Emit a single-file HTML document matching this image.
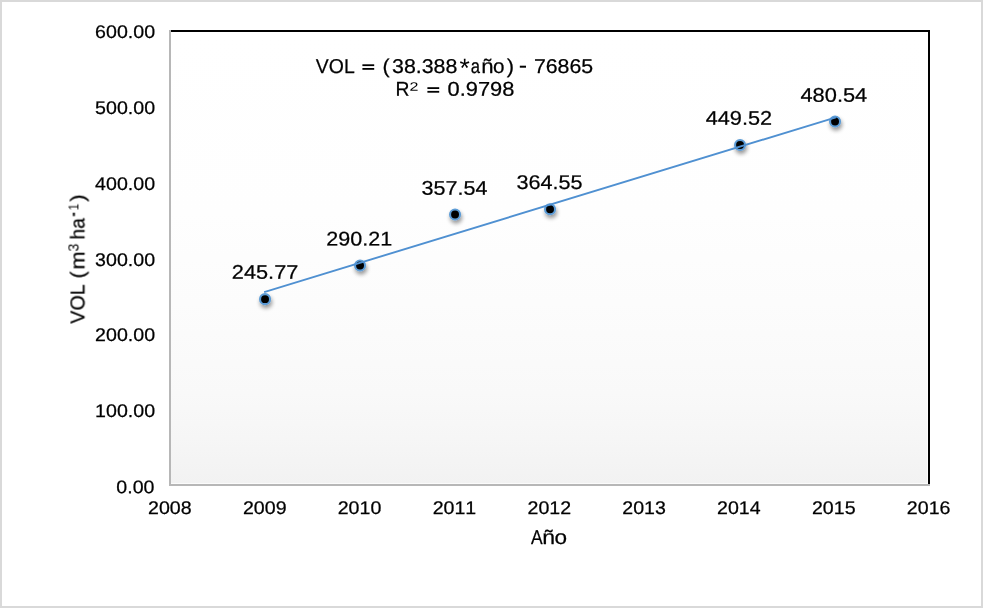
<!DOCTYPE html>
<html><head><meta charset="utf-8"><title>Chart</title>
<style>
html,body{margin:0;padding:0;background:#fff;}
body{width:983px;height:608px;overflow:hidden;font-family:"Liberation Sans",sans-serif;}
svg{display:block;}
text{white-space:pre;font-kerning:none;}
</style></head><body>
<svg width="983" height="608" viewBox="0 0 983 608">
<defs>
<linearGradient id="pg" x1="0" y1="0" x2="0" y2="1">
<stop offset="0" stop-color="#ffffff"/><stop offset="0.4" stop-color="#fefefe"/><stop offset="0.6" stop-color="#fcfcfc"/><stop offset="0.8" stop-color="#f9f9f9"/><stop offset="0.9" stop-color="#f6f6f6"/><stop offset="1" stop-color="#f2f2f2"/>
</linearGradient>
<filter id="sh" x="-60%" y="-60%" width="240%" height="240%">
<feGaussianBlur in="SourceAlpha" stdDeviation="2.2"/><feOffset dx="1.0" dy="2.6" result="b"/>
<feComponentTransfer><feFuncA type="linear" slope="0.42"/></feComponentTransfer>
<feMerge><feMergeNode/><feMergeNode in="SourceGraphic"/></feMerge>
</filter>
</defs>
<rect x="0" y="0" width="983" height="608" fill="#fff"/>
<rect x="1.0" y="1.0" width="981" height="606" fill="none" stroke="#d9d9d9" stroke-width="2"/>
<rect x="171" y="32" width="756.2" height="451.3" fill="url(#pg)"/>
<rect x="169" y="30" width="2" height="456" fill="#b7b7b7"/>
<rect x="169" y="484" width="761" height="2" fill="#b7b7b7"/>
<rect x="171" y="30" width="759" height="2" fill="#000"/>
<rect x="928" y="30" width="2" height="454" fill="#000"/>
<g filter="url(#sh)">
<circle cx="265.05" cy="299.13" r="5.0" fill="#000" stroke="#5b9bd5" stroke-width="2.1"/>
<circle cx="360.05" cy="265.51" r="5.0" fill="#000" stroke="#5b9bd5" stroke-width="2.1"/>
<circle cx="455.05" cy="214.56" r="5.0" fill="#000" stroke="#5b9bd5" stroke-width="2.1"/>
<circle cx="550.05" cy="209.26" r="5.0" fill="#000" stroke="#5b9bd5" stroke-width="2.1"/>
<circle cx="740.05" cy="144.96" r="5.0" fill="#000" stroke="#5b9bd5" stroke-width="2.1"/>
<circle cx="835.05" cy="121.49" r="5.0" fill="#000" stroke="#5b9bd5" stroke-width="2.1"/>
</g>
<line x1="265.05" y1="291.85" x2="835.05" y2="117.57" stroke="#4f90d1" stroke-width="1.9" stroke-linecap="square"/>
<g opacity="0.999" stroke="#000" stroke-width="0.25" stroke-linejoin="round">
<text transform="translate(95.11,37.90) rotate(0.03) scale(1.0710,1)" font-family="Liberation Sans, sans-serif" font-size="18.3" fill="#000">600.00</text>
<text transform="translate(95.11,114.05) rotate(0.03) scale(1.0710,1)" font-family="Liberation Sans, sans-serif" font-size="18.3" fill="#000">500.00</text>
<text transform="translate(95.11,190.05) rotate(0.03) scale(1.0710,1)" font-family="Liberation Sans, sans-serif" font-size="18.3" fill="#000">400.00</text>
<text transform="translate(95.11,266.05) rotate(0.03) scale(1.0710,1)" font-family="Liberation Sans, sans-serif" font-size="18.3" fill="#000">300.00</text>
<text transform="translate(95.11,340.90) rotate(0.03) scale(1.0710,1)" font-family="Liberation Sans, sans-serif" font-size="18.3" fill="#000">200.00</text>
<text transform="translate(95.11,417.05) rotate(0.03) scale(1.0710,1)" font-family="Liberation Sans, sans-serif" font-size="18.3" fill="#000">100.00</text>
<text transform="translate(116.36,493.20) rotate(0.03) scale(1.0710,1)" font-family="Liberation Sans, sans-serif" font-size="18.3" fill="#000">0.00</text>
<text transform="translate(148.05,514.10) rotate(0.03) scale(1.0710,1)" font-family="Liberation Sans, sans-serif" font-size="18.3" fill="#000">2008</text>
<text transform="translate(242.95,514.10) rotate(0.03) scale(1.0710,1)" font-family="Liberation Sans, sans-serif" font-size="18.3" fill="#000">2009</text>
<text transform="translate(337.70,514.10) rotate(0.03) scale(1.0710,1)" font-family="Liberation Sans, sans-serif" font-size="18.3" fill="#000">2010</text>
<text transform="translate(432.64,514.10) rotate(0.03) scale(1.0710,1)" font-family="Liberation Sans, sans-serif" font-size="18.3" fill="#000">2011</text>
<text transform="translate(527.49,514.10) rotate(0.03) scale(1.0710,1)" font-family="Liberation Sans, sans-serif" font-size="18.3" fill="#000">2012</text>
<text transform="translate(622.30,514.10) rotate(0.03) scale(1.0710,1)" font-family="Liberation Sans, sans-serif" font-size="18.3" fill="#000">2013</text>
<text transform="translate(717.00,514.10) rotate(0.03) scale(1.0710,1)" font-family="Liberation Sans, sans-serif" font-size="18.3" fill="#000">2014</text>
<text transform="translate(811.95,514.10) rotate(0.03) scale(1.0710,1)" font-family="Liberation Sans, sans-serif" font-size="18.3" fill="#000">2015</text>
<text transform="translate(906.85,514.10) rotate(0.03) scale(1.0710,1)" font-family="Liberation Sans, sans-serif" font-size="18.3" fill="#000">2016</text>
<text transform="translate(231.85,278.68) rotate(0.03) scale(1.0983,1)" font-family="Liberation Sans, sans-serif" font-size="19.8" fill="#000">245.77</text>
<text transform="translate(326.33,245.51) rotate(0.03) scale(1.0881,1)" font-family="Liberation Sans, sans-serif" font-size="19.8" fill="#000">290.21</text>
<text transform="translate(421.60,194.76) rotate(0.03) scale(1.0883,1)" font-family="Liberation Sans, sans-serif" font-size="19.8" fill="#000">357.54</text>
<text transform="translate(516.52,188.96) rotate(0.03) scale(1.0923,1)" font-family="Liberation Sans, sans-serif" font-size="19.8" fill="#000">364.55</text>
<text transform="translate(705.69,124.81) rotate(0.03) scale(1.0974,1)" font-family="Liberation Sans, sans-serif" font-size="19.8" fill="#000">449.52</text>
<text transform="translate(800.47,101.74) rotate(0.03) scale(1.1034,1)" font-family="Liberation Sans, sans-serif" font-size="19.8" fill="#000">480.54</text>
<text transform="translate(315.80,72.90) rotate(0.03) scale(0.9720,1)" font-family="Liberation Sans, sans-serif" font-size="20.0" fill="#000">VOL</text>
<rect x="362.40" y="64.30" width="11.80" height="1.80" fill="#000" stroke="none"/>
<rect x="362.40" y="68.00" width="11.80" height="1.80" fill="#000" stroke="none"/>
<text transform="translate(382.61,72.90) rotate(0.03) scale(1.0755,1)" font-family="Liberation Sans, sans-serif" font-size="20.0" fill="#000">(</text>
<text transform="translate(392.05,72.90) rotate(0.03) scale(1.0672,1)" font-family="Liberation Sans, sans-serif" font-size="20.0" fill="#000">38.388</text>
<text transform="translate(459.40,76.84) rotate(0.03) scale(1.0184,1)" font-family="Liberation Sans, sans-serif" font-size="26.00" stroke="none">*</text>
<text transform="translate(470.65,72.90) rotate(0.03) scale(0.8333,1)" font-family="Liberation Sans, sans-serif" font-size="20.0" fill="#000">a</text>
<text transform="translate(481.15,72.90) rotate(0.03) scale(1.1059,1)" font-family="Liberation Sans, sans-serif" font-size="20.0" fill="#000">ñ</text>
<text transform="translate(493.07,72.90) rotate(0.03) scale(1.0316,1)" font-family="Liberation Sans, sans-serif" font-size="20.0" fill="#000">o</text>
<text transform="translate(506.68,72.90) rotate(0.03) scale(1.0962,1)" font-family="Liberation Sans, sans-serif" font-size="20.0" fill="#000">)</text>
<rect x="519.80" y="65.70" width="6.20" height="2.00" fill="#000" stroke="none"/>
<text transform="translate(533.93,72.90) rotate(0.03) scale(1.0651,1)" font-family="Liberation Sans, sans-serif" font-size="20.0" fill="#000">76865</text>
<text transform="translate(395.45,95.80) rotate(0.03) scale(0.9661,1)" font-family="Liberation Sans, sans-serif" font-size="20.0" fill="#000">R</text>
<text transform="translate(409.40,90.80) rotate(0.03) scale(1.3059,1)" font-family="Liberation Sans, sans-serif" font-size="12.29" stroke="none">2</text>
<rect x="427.40" y="87.20" width="11.80" height="1.80" fill="#000" stroke="none"/>
<rect x="427.40" y="90.90" width="11.80" height="1.80" fill="#000" stroke="none"/>
<text transform="translate(447.53,95.80) rotate(0.03) scale(1.0924,1)" font-family="Liberation Sans, sans-serif" font-size="20.0" fill="#000">0.9798</text>
<text transform="translate(530.91,544.00) rotate(0.03) scale(0.8712,1)" font-family="Liberation Sans, sans-serif" font-size="20.0" fill="#000">A</text>
<text transform="translate(542.29,544.00) rotate(0.03) scale(1.1529,1)" font-family="Liberation Sans, sans-serif" font-size="20.0" fill="#000">ñ</text>
<text transform="translate(554.50,544.00) rotate(0.03) scale(1.1263,1)" font-family="Liberation Sans, sans-serif" font-size="20.0" fill="#000">o</text>
<g transform="translate(84.4,323.7) rotate(-90)"><text transform="translate(0.10,0.00) rotate(0.03) scale(0.9796,1)" font-family="Liberation Sans, sans-serif" font-size="20.0" fill="#000">VOL</text><text transform="translate(45.31,0.00) rotate(0.03) scale(1.0755,1)" font-family="Liberation Sans, sans-serif" font-size="20.0" fill="#000">(</text><text transform="translate(54.19,0.00) rotate(0.03) scale(1.0857,1)" font-family="Liberation Sans, sans-serif" font-size="20.0" fill="#000">m</text><text transform="translate(72.34,-5.95) rotate(0.03) scale(0.9680,1)" font-family="Liberation Sans, sans-serif" font-size="14.51" stroke="none">3</text><text transform="translate(84.32,0.00) rotate(0.03) scale(0.9495,1)" font-family="Liberation Sans, sans-serif" font-size="20.0" fill="#000">ha</text><rect x="107.60" y="-11.50" width="3.40" height="2.00" fill="#000" stroke="none"/><text transform="translate(113.53,-5.80) rotate(0.03) scale(0.8104,1)" font-family="Liberation Sans, sans-serif" font-size="14.35" stroke="none">1</text><text transform="translate(121.98,0.00) rotate(0.03) scale(1.1154,1)" font-family="Liberation Sans, sans-serif" font-size="20.0" fill="#000">)</text></g>
</g>
</svg>
</body></html>
